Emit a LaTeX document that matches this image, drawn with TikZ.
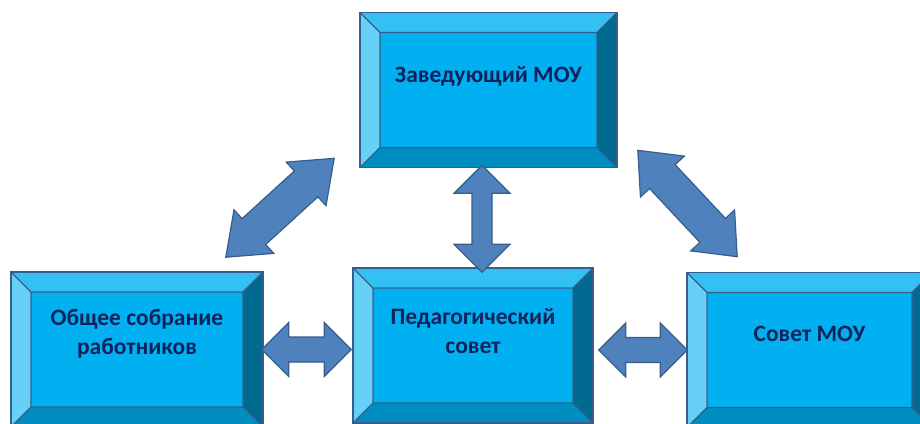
\documentclass[tikz,border=0pt]{standalone}
\usepackage{fontspec}
\setmainfont{Carlito}
\usetikzlibrary{calc}

\definecolor{boxline}{RGB}{56,93,138}
\definecolor{boxfill}{RGB}{0,176,240}
\definecolor{bevtop}{RGB}{51,192,243}
\definecolor{bevleft}{RGB}{102,208,246}
\definecolor{bevright}{RGB}{0,106,144}
\definecolor{bevbottom}{RGB}{0,141,192}
\definecolor{arrowfill}{RGB}{79,129,189}
\definecolor{boxtext}{RGB}{14,34,92}

\begin{document}
\begin{tikzpicture}[x=1pt, y=-1pt,
	bevelbox/.style={rectangle, draw=boxline, line width=1.6pt, fill=boxfill,
		minimum width=#1, minimum height=155pt, inner sep=0pt,
		path picture={
			\coordinate (nw) at (path picture bounding box.north west);
			\coordinate (ne) at (path picture bounding box.north east);
			\coordinate (sw) at (path picture bounding box.south west);
			\coordinate (se) at (path picture bounding box.south east);
			\coordinate (inw) at ([shift={(20pt,-20pt)}]nw);
			\coordinate (ine) at ([shift={(-20pt,-20pt)}]ne);
			\coordinate (isw) at ([shift={(20pt,20pt)}]sw);
			\coordinate (ise) at ([shift={(-20pt,20pt)}]se);
			\fill[bevtop] (nw) -- (ne) -- (ine) -- (inw) -- cycle;
			\fill[bevleft] (nw) -- (inw) -- (isw) -- (sw) -- cycle;
			\fill[bevright] (ne) -- (se) -- (ise) -- (ine) -- cycle;
			\fill[bevbottom] (sw) -- (isw) -- (ise) -- (se) -- cycle;
			\draw[boxline, line width=1.3pt] (inw) -- (ine) -- (ise) -- (isw) -- cycle
				(nw) -- (inw) (ne) -- (ine) (sw) -- (isw) (se) -- (ise);
		}},
	boxtext/.style={text=boxtext, font=\fontsize{23.5}{29}\selectfont\bfseries, align=center},
	arrowbody/.style={draw=boxline, line width=1.2pt, fill=arrowfill, line join=miter}
]

\useasboundingbox (0,0) rectangle (920,423);
\clip (0,0) rectangle (920,423);

% from, to, shaft half width, head half width, head length
\newcommand*{\fatarrow}[5]{
	\coordinate (fa-a) at (#1);
	\coordinate (fa-b) at (#2);
	\coordinate (fa-ha) at ($(fa-a)!#5!(fa-b)$);
	\coordinate (fa-hb) at ($(fa-b)!#5!(fa-a)$);
	\draw[arrowbody] (fa-a) -- ($(fa-ha)!#4!90:(fa-b)$) -- ($(fa-ha)!#3!90:(fa-b)$)
		-- ($(fa-hb)!#3!-90:(fa-a)$) -- ($(fa-hb)!#4!-90:(fa-a)$) -- (fa-b)
		-- ($(fa-hb)!#4!90:(fa-a)$) -- ($(fa-hb)!#3!90:(fa-a)$)
		-- ($(fa-ha)!#3!-90:(fa-b)$) -- ($(fa-ha)!#4!-90:(fa-b)$) -- cycle;
}

% boxes
\node[bevelbox=257pt] (zav) at (488.5,90) {};
\node[bevelbox=252pt] (obsh) at (137,349.5) {};
\node[bevelbox=240pt] (ped) at (473,345.5) {};
\node[bevelbox=245pt] (sov) at (809.5,350) {};

\node[boxtext] (zav-t) at ([yshift=14pt]zav.center) {Заведующий МОУ};
\node[boxtext] (obsh-t) at ([yshift=16pt]obsh.center) {Общее собрание\\работников};
\node[boxtext] (ped-t) at ([yshift=14pt]ped.center) {Педагогический\\совет};
\node[boxtext] (sov-t) at ([yshift=16pt]sov.center) {Совет МОУ};

% arrows
\fatarrow{[xshift=-6.5pt,yshift=3pt]zav.south}{[xshift=9pt,yshift=-5pt]ped.north}{10pt}{28pt}{28pt}
\fatarrow{[xshift=-2pt]obsh.east}{[xshift=-1pt]ped.west |- obsh.east}{12.5pt}{27pt}{27pt}
\fatarrow{[xshift=5pt]ped.east |- sov.west}{[xshift=1pt]sov.west}{12.5pt}{27pt}{27pt}
\fatarrow{[shift={(-38pt,14pt)}]obsh.north east}{[shift={(-25pt,10pt)}]zav.south west}{17.5pt}{29.5pt}{38pt}
\fatarrow{[shift={(20pt,18pt)}]zav.south east}{[shift={(51pt,15pt)}]sov.north west}{17.5pt}{30pt}{36pt}

\end{tikzpicture}
\end{document}
